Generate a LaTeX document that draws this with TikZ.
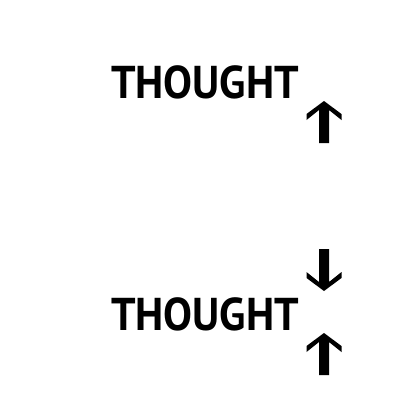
\documentclass[tikz,border=0pt]{standalone}
\usepackage{fontspec}
\usepackage{graphicx}
\setmainfont{PT Sans}
\tikzset{
  word/.style={inner sep=0pt, anchor=base west, font=\fontsize{46}{46}\selectfont\bfseries},
  arrowshape/.style={fill=black, draw=none}
}
\begin{document}
\begin{tikzpicture}[x=1pt,y=-1pt]
\useasboundingbox (0,0) rectangle (400,400);
\node[word] (t1) at (111,98) {\scalebox{0.94}[1]{THOUGHT}};
\node[word] (t2) at (111,330) {\scalebox{0.94}[1]{THOUGHT}};
% up arrow top
\fill[arrowshape] (324,101) -- ++(17.5,13) -- ++(0,6) -- ++(-12.5,-10) -- ++(0,33) -- ++(-10,0) -- ++(0,-33) -- ++(-12.5,10) -- ++(0,-6) -- cycle;
% down arrow
\fill[arrowshape] (324,291) -- ++(17.5,-13) -- ++(0,-6) -- ++(-12.5,10) -- ++(0,-33) -- ++(-10,0) -- ++(0,33) -- ++(-12.5,-10) -- ++(0,6) -- cycle;
% up arrow bottom
\fill[arrowshape] (324,333) -- ++(17.5,13) -- ++(0,6) -- ++(-12.5,-10) -- ++(0,33) -- ++(-10,0) -- ++(0,-33) -- ++(-12.5,10) -- ++(0,-6) -- cycle;
\end{tikzpicture}
\end{document}
